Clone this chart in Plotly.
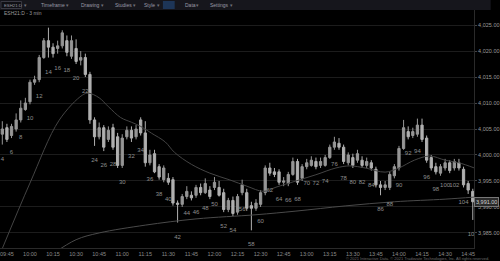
import plotly.graph_objects as go
from datetime import datetime, timedelta

# ---------------- data ----------------
session_day = "2021-03-01"
first_bar = "09:42"
bar_minutes = 3
first_bar_number = 4  # bars counted from 09:30

opens = [4004.00, 4005.25, 4003.75, 4005.00, 4006.75, 4008.75, 4010.25, 4014.00, 4014.50, 4018.75,
         4022.00, 4020.75, 4020.50, 4021.00, 4022.00, 4019.00, 4020.50, 4018.25, 4018.75, 4015.50,
         4006.75, 4003.50, 4005.25, 4003.00, 4005.25, 4003.50, 3998.00, 4003.50, 4004.75, 4003.50,
         4006.75, 4004.25, 3998.50, 4000.25, 3997.75, 3995.25, 3995.50, 3995.25, 3990.75, 3990.50,
         3992.00, 3992.25, 3992.25, 3993.75, 3992.75, 3993.25, 3993.75, 3993.75, 3992.75, 3989.50,
         3991.25, 3989.00, 3992.75, 3992.75, 3990.25, 3989.75, 3990.50, 3992.75, 3997.50, 3996.75,
         3996.75, 3994.75, 3994.50, 3996.25, 3998.75, 3995.50, 3997.75, 3998.00, 3998.75, 3998.00,
         3998.00, 3999.50, 4001.50, 4002.25, 4001.50, 3998.50, 3999.50, 3999.00, 3999.00, 3998.00,
         3998.50, 3997.25, 3994.25, 3993.75, 3993.75, 3996.00, 3997.50, 4001.25, 4004.50, 4003.75,
         4004.00, 4005.75, 4003.25, 3999.50, 3997.75, 3996.50, 3997.50, 3998.50, 3997.50, 3998.50,
         3997.25, 3994.50, 3993.00]
highs = [4006.50, 4006.00, 4006.00, 4008.00, 4010.50, 4011.00, 4014.50, 4015.25, 4019.25, 4022.50,
         4024.50, 4021.50, 4022.00, 4024.00, 4023.00, 4023.00, 4022.25, 4020.00, 4019.50, 4016.00,
         4007.25, 4006.25, 4005.75, 4005.50, 4006.00, 4004.25, 4004.00, 4005.50, 4005.50, 4005.75,
         4007.25, 4006.50, 4001.00, 4001.00, 3998.25, 3998.00, 3996.50, 3995.75, 3991.25, 3992.50,
         3994.00, 3993.00, 3994.25, 3994.50, 3995.50, 3994.00, 3995.75, 3995.00, 3993.50, 3991.75,
         3992.00, 3992.50, 3995.25, 3993.50, 3991.00, 3991.50, 3993.25, 3998.00, 3998.50, 3997.50,
         3997.25, 3995.75, 3996.75, 3999.50, 3999.25, 3998.25, 3999.25, 3999.75, 3999.50, 3999.50,
         4000.00, 4002.00, 4003.50, 4003.25, 4002.00, 4000.50, 4000.25, 4001.00, 3999.75, 3999.50,
         3999.00, 3997.75, 3995.00, 3995.00, 3996.75, 3998.25, 4001.75, 4006.75, 4005.50, 4005.25,
         4007.00, 4007.00, 4003.75, 4000.00, 3998.50, 3998.25, 3999.25, 3999.00, 3999.25, 3999.25,
         3997.75, 3995.00, 3993.50]
lows = [4002.00, 4002.50, 4003.25, 4004.50, 4006.25, 4008.50, 4009.75, 4013.50, 4014.00, 4018.50,
        4018.75, 4018.75, 4019.50, 4020.50, 4019.00, 4018.50, 4017.50, 4017.25, 4015.00, 4006.00,
        4001.75, 4003.00, 4000.75, 4002.50, 4001.00, 3997.50, 3997.50, 4003.00, 4002.50, 4003.00,
        4003.75, 3997.75, 3998.00, 3996.50, 3995.25, 3994.75, 3994.25, 3990.25, 3987.00, 3990.00,
        3991.50, 3991.25, 3991.75, 3992.25, 3992.50, 3991.50, 3993.25, 3992.00, 3989.00, 3989.00,
        3988.25, 3988.50, 3992.25, 3989.25, 3985.50, 3989.25, 3990.00, 3992.25, 3996.00, 3995.75,
        3994.25, 3994.00, 3994.00, 3996.00, 3994.25, 3995.00, 3997.25, 3997.75, 3997.25, 3997.50,
        3997.75, 3999.25, 4001.00, 4001.00, 3998.25, 3998.00, 3997.50, 3998.50, 3997.50, 3997.50,
        3997.00, 3993.75, 3992.25, 3993.25, 3993.25, 3995.50, 3997.00, 4001.00, 4003.00, 4003.25,
        4003.50, 4002.50, 3998.50, 3997.00, 3996.25, 3996.00, 3997.00, 3996.50, 3997.00, 3997.00,
        3993.75, 3992.50, 3987.50]
closes = [4005.00, 4003.00, 4005.50, 4006.75, 4009.00, 4010.00, 4014.00, 4014.50, 4018.75, 4022.00,
          4020.75, 4019.50, 4021.00, 4023.50, 4019.75, 4022.00, 4018.00, 4018.75, 4015.50, 4006.75,
          4003.50, 4005.25, 4001.50, 4004.75, 4001.50, 3998.00, 4003.25, 4004.75, 4003.25, 4005.00,
          4004.25, 3998.50, 4000.00, 3996.75, 3995.75, 3997.50, 3994.75, 3990.75, 3990.50, 3992.00,
          3993.00, 3991.75, 3993.75, 3992.75, 3994.50, 3992.00, 3994.75, 3992.25, 3989.50, 3991.25,
          3988.75, 3992.00, 3994.25, 3989.75, 3989.75, 3990.75, 3992.75, 3997.50, 3996.50, 3996.25,
          3994.75, 3995.00, 3996.25, 3998.75, 3994.75, 3997.75, 3998.50, 3999.00, 3997.75, 3998.75,
          3999.50, 4001.50, 4002.50, 4001.50, 3998.75, 4000.00, 3998.00, 4000.25, 3998.00, 3998.75,
          3997.50, 3994.25, 3993.75, 3994.25, 3996.25, 3997.75, 4001.25, 4005.25, 4003.50, 4004.50,
          4005.75, 4003.00, 3999.00, 3997.50, 3996.75, 3997.75, 3998.50, 3997.00, 3998.75, 3997.50,
          3994.25, 3993.25, 3991.00]

# moving-average lines (time, price)
fast_ma_times = ["09:42", "10:00", "10:19", "10:34", "10:38", "10:45", "10:51", "10:59", "11:06",
                 "11:12", "11:19", "11:28", "11:34", "11:45", "11:57", "12:10", "12:21", "12:32",
                 "12:40", "12:53", "13:06", "13:19", "13:28", "13:38", "13:51", "14:00", "14:10",
                 "14:20", "14:30", "14:39", "14:49"]
fast_ma_vals = [3982.0, 3994.6, 4006.7, 4011.5, 4011.9, 4011.0, 4009.3, 4007.2, 4006.3,
                4005.5, 4004.2, 4002.5, 4000.5, 3998.2, 3996.5, 3995.2, 3994.0, 3993.0,
                3993.8, 3995.0, 3996.2, 3997.5, 3997.9, 3997.5, 3996.7, 3997.5, 3999.0,
                3999.8, 3999.0, 3998.5, 3997.5]
slow_ma_times = ["10:15", "10:30", "10:45", "11:15", "11:48", "12:27", "12:53", "13:25",
                 "13:57", "14:30", "14:49"]
slow_ma_vals = [3981.0, 3983.7, 3985.0, 3986.5, 3987.7, 3988.5, 3989.2, 3990.2,
                3991.0, 3991.5, 3991.9]

y_ticks = [3985, 3990, 3995, 4000, 4005, 4010, 4015, 4020, 4025]
x_tick_labels = ["09:45", "10:00", "10:15", "10:30", "10:45", "11:00", "11:15", "11:30", "11:45",
                 "12:00", "12:15", "12:30", "12:45", "13:00", "13:15", "13:30", "13:45", "14:00",
                 "14:15", "14:30", "14:45"]

toolbar_items = ["ESH21:D", "Timeframe", "Drawing", "Studies", "Style", "Data", "Settings"]
chart_title = "ESH21:D - 3 min"
copyright_text = "© 2021 Interactive Data. © 2021 Tradovate Technologies, Inc. All rights reserved."

# ---------------- build ----------------
def t(hhmm):
    return datetime.strptime(session_day + " " + hhmm, "%Y-%m-%d %H:%M")

t0 = t(first_bar)
times = [t0 + timedelta(minutes=bar_minutes * i) for i in range(len(opens))]

fig = go.Figure()

fig.add_trace(go.Scatter(x=[t(s) for s in slow_ma_times], y=slow_ma_vals, mode="lines",
                         line=dict(color="#4a4a4a", width=1, shape="spline"), hoverinfo="skip"))
fig.add_trace(go.Scatter(x=[t(s) for s in fast_ma_times], y=fast_ma_vals, mode="lines",
                         line=dict(color="#444444", width=1, shape="spline"), hoverinfo="skip"))

fig.add_trace(go.Candlestick(
    x=times, open=opens, high=highs, low=lows, close=closes,
    increasing=dict(line=dict(color="#969696", width=1), fillcolor="#969696"),
    decreasing=dict(line=dict(color="#b0b0b0", width=1), fillcolor="#b0b0b0"),
    whiskerwidth=0, showlegend=False))

# bar-number labels on every second bar, below each bar's low
lab_x, lab_y, lab_t = [], [], []
for i in range(len(opens)):
    n = first_bar_number + i
    if n % 2 == 0:
        lab_x.append(times[i])
        lab_y.append(lows[i] - 2.8)
        lab_t.append(str(n))
fig.add_trace(go.Scatter(x=lab_x, y=lab_y, text=lab_t, mode="text",
                         textfont=dict(size=6, color="#8e8e8e", family="Liberation Sans"),
                         hoverinfo="skip"))

W, H = 500, 261
ml, mr, mt, mb = 0, 17, 10, 13
ph = H - mt - mb
pw = W - ml - mr

x_start = t0 - timedelta(minutes=1.5)
x_end = t(x_tick_labels[-1]) + timedelta(minutes=3.8)

fig.update_layout(
    width=W, height=H,
    margin=dict(l=ml, r=mr, t=mt, b=mb),
    paper_bgcolor="#000000", plot_bgcolor="#000000",
    showlegend=False,
    font=dict(family="Liberation Sans", color="#8a8a8a", size=6),
    xaxis=dict(type="date", range=[x_start, x_end], rangeslider=dict(visible=False),
               tickvals=[t(s) for s in x_tick_labels], ticktext=x_tick_labels,
               showgrid=False, zeroline=False, showline=True, linecolor="#2a2a2a",
               ticks="", tickfont=dict(size=5.5, color="#8a8a8a")),
    yaxis=dict(side="right", range=[3982.1, 4027.9], tickvals=y_ticks,
               ticktext=[f"{v:,.2f}" for v in y_ticks],
               showgrid=True, gridcolor="#1c1c1c", gridwidth=1, zeroline=False,
               showline=True, linecolor="#2a2a2a", ticks="outside", ticklen=2,
               tickcolor="#444", tickfont=dict(size=5.5, color="#9a9a9a")),
)

# toolbar band
fig.add_shape(type="rect", xref="paper", yref="paper", x0=0, x1=1 + mr / pw,
              y0=1, y1=1 + mt / ph, fillcolor="#16161c", line=dict(width=0), layer="above")
fig.add_shape(type="rect", xref="paper", yref="paper",
              x0=166 / pw, x1=178 / pw, y0=1 + 1 / ph, y1=1 + 9 / ph,
              fillcolor="#1d3557", line=dict(width=0), layer="above")
fig.add_shape(type="rect", xref="paper", yref="paper",
              x0=1 / pw, x1=22 / pw, y0=1 + 1.5 / ph, y1=1 + 8.5 / ph,
              fillcolor="#101014", line=dict(color="#3a3a44", width=1), layer="above")

tool_x = [2.5, 40, 80, 115, 145, 186, 212]
tool_size = [4.3, 5, 5, 5, 5, 5, 5]
for lbl, px, fs in zip(toolbar_items, tool_x, tool_size):
    fig.add_annotation(xref="paper", yref="paper", x=px / pw, y=1 + 5 / ph,
                       text=lbl, showarrow=False, xanchor="left", yanchor="middle",
                       font=dict(size=fs, color="#9a9aa6"))
for px in [26, 69, 104, 137, 161, 201, 236]:
    fig.add_annotation(xref="paper", yref="paper", x=px / pw, y=1 + 5 / ph,
                       text="▾", showarrow=False, xanchor="center", yanchor="middle",
                       font=dict(size=4.5, color="#70707a"))

fig.add_annotation(xref="paper", yref="paper", x=2 / pw, y=1 - 3.5 / ph,
                   text=chart_title, showarrow=False, xanchor="left", yanchor="middle",
                   font=dict(size=5, color="#9a9a9a"))

# last price marker
fig.add_annotation(xref="paper", yref="y", x=1.0, y=closes[-1],
                   text=f"{closes[-1]:,.2f}", showarrow=False, xanchor="left", yanchor="middle",
                   bgcolor="#2a2a2a", bordercolor="#777", borderwidth=1, borderpad=1,
                   font=dict(size=5.5, color="#d0d0d0"))

fig.add_annotation(xref="paper", yref="paper", x=1 + mr / pw, y=-10.5 / ph,
                   text=copyright_text, showarrow=False, xanchor="right", yanchor="middle",
                   font=dict(size=4, color="#6a6a6a"))

fig.write_html("out.html")
